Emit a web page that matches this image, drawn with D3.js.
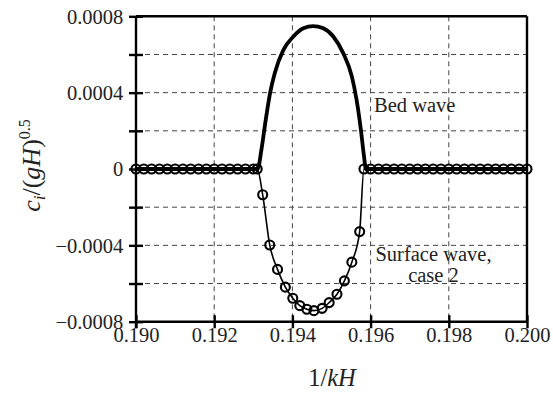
<!DOCTYPE html>
<html>
<head>
<meta charset="utf-8">
<script src="https://cdn.jsdelivr.net/npm/d3@7"></script>
<style>
  html, body { margin: 0; padding: 0; background: #fff; }
  svg { display: block; }
  svg text { font-family: "Liberation Serif", "Times New Roman", Times, Tinos, "Nimbus Roman", "Noto Serif", "DejaVu Serif", serif !important; fill: #222; }
</style>
</head>
<body>
<svg id="chart" width="553" height="393"></svg>
<script>
// Wave-number axis (1/kH) and growth rate c_i/(gH)^0.5

// Surface wave, case 2 (plotted with circle markers)
const surfaceX = [
  0.1900, 0.1902, 0.1904, 0.1906, 0.1908, 0.1910, 0.1912, 0.1914, 0.1916, 0.1918,
  0.1920, 0.1922, 0.1924, 0.1926, 0.1928, 0.1930, 0.19310,
  0.19324, 0.19342, 0.19362, 0.19382, 0.19401, 0.19419, 0.19437, 0.19455,
  0.19476, 0.19494, 0.19514, 0.19533, 0.19552, 0.19572, 0.19583,
  0.1960, 0.1962, 0.1964, 0.1966, 0.1968, 0.1970, 0.1972, 0.1974, 0.1976, 0.1978,
  0.1980, 0.1982, 0.1984, 0.1986, 0.1988, 0.1990, 0.1992, 0.1994, 0.1996, 0.1998, 0.2000
];
const surfaceY = [
  0, 0, 0, 0, 0, 0, 0, 0, 0, 0,
  0, 0, 0, 0, 0, 0, 0,
  -0.000135, -0.000398, -0.000526, -0.000619, -0.000677, -0.000716, -0.000735, -0.000742,
  -0.000730, -0.000700, -0.000656, -0.000586, -0.000488, -0.000328, 0,
  0, 0, 0, 0, 0, 0, 0, 0, 0, 0,
  0, 0, 0, 0, 0, 0, 0, 0, 0, 0, 0
];

// Bed wave (thick solid line)
const bedX = [
  0.1900, 0.19311, 0.19321, 0.19332, 0.19343, 0.19355, 0.19377, 0.19402, 0.19428,
  0.19453, 0.19479, 0.19505, 0.19530, 0.19552, 0.19564, 0.19575, 0.19583, 0.19588, 0.2000
];
const bedY = [
  0, 0, 0.000104, 0.000260, 0.000399, 0.000503, 0.000624, 0.000693, 0.000737,
  0.000749, 0.000737, 0.000693, 0.000607, 0.000485, 0.000364, 0.000208, 0.000069, 0, 0
];

const xTicks = [0.190, 0.192, 0.194, 0.196, 0.198, 0.200];
const xTickLabels = ["0.190", "0.192", "0.194", "0.196", "0.198", "0.200"];
const yTicks = [0.0008, 0.0004, 0, -0.0004, -0.0008];
const yTickLabels = ["0.0008", "0.0004", "0", "\u22120.0004", "\u22120.0008"];
const yMinorTicks = [0.0006, 0.0002, -0.0002, -0.0006];
const xGrid = [0.192, 0.194, 0.196, 0.198];
const yGrid = [0.0006, 0.0004, 0.0002, -0.0002, -0.0004, -0.0006];

const FONT = "'Liberation Serif', 'Times New Roman', Times, Tinos, 'Nimbus Roman', 'Noto Serif', 'DejaVu Serif', serif";

const svg = d3.select("#chart");
const plotL = 136, plotR = 527, plotT = 16.3, plotB = 321.7;

const x = d3.scaleLinear().domain([0.190, 0.200]).range([plotL, plotR]);
const y = d3.scaleLinear().domain([-0.0008, 0.0008]).range([plotB, plotT]);

// dashed grid
const grid = svg.append("g").attr("stroke", "#444").attr("stroke-width", 1)
  .attr("stroke-dasharray", "5,4").attr("fill", "none");
grid.selectAll("line.gx").data(xGrid).join("line").attr("class", "gx")
  .attr("x1", d => x(d)).attr("x2", d => x(d)).attr("y1", plotT).attr("y2", plotB);
grid.selectAll("line.gy").data(yGrid).join("line").attr("class", "gy")
  .attr("x1", plotL).attr("x2", plotR).attr("y1", d => y(d)).attr("y2", d => y(d));

// frame
const frame = svg.append("g").attr("stroke", "#000").attr("stroke-width", 2.4).attr("fill", "none");
frame.append("line").attr("x1", plotL).attr("x2", plotR).attr("y1", plotT).attr("y2", plotT);
frame.append("line").attr("x1", plotR).attr("x2", plotR).attr("y1", plotT).attr("y2", plotB);

// x axis
const xAxis = svg.append("g").attr("transform", `translate(0,${plotB})`)
  .call(d3.axisBottom(x).tickValues(xTicks).tickFormat((d, i) => xTickLabels[i])
    .tickSize(6.5).tickPadding(0))
  .attr("font-family", FONT).attr("font-size", 20.5);
xAxis.select(".domain").attr("stroke", "#000").attr("stroke-width", 2.4)
  .attr("d", `M${plotL},0H${plotR}`);
xAxis.selectAll(".tick line").attr("stroke", "#000").attr("stroke-width", 2.4).attr("y1", -6.5);
xAxis.selectAll(".tick text").attr("y", 20.3).attr("dy", 0).attr("fill", "#222");

// y axis
const yAxis = svg.append("g").attr("transform", `translate(${plotL},0)`)
  .call(d3.axisLeft(y).tickValues(yTicks).tickFormat((d, i) => yTickLabels[i])
    .tickSize(7).tickPadding(5.7))
  .attr("font-family", FONT).attr("font-size", 20.5);
yAxis.select(".domain").attr("stroke", "#000").attr("stroke-width", 2.4)
  .attr("d", `M0,${plotT}V${plotB + 6.5}`);
yAxis.selectAll(".tick line").attr("stroke", "#000").attr("stroke-width", 2.4).attr("x2", 7).attr("x1", -7);
yAxis.selectAll(".tick text").attr("fill", "#222").attr("dy", "0.34em");

const yMinor = svg.append("g").attr("transform", `translate(${plotL},0)`)
  .call(d3.axisLeft(y).tickValues(yMinorTicks).tickFormat("").tickSize(7));
yMinor.select(".domain").remove();
yMinor.selectAll(".tick line").attr("stroke", "#000").attr("stroke-width", 2.4).attr("x1", -7).attr("x2", 7);

// series
const surface = surfaceX.map((v, i) => [v, surfaceY[i]]);
const bed = bedX.map((v, i) => [v, bedY[i]]);

const line = d3.line().x(d => x(d[0])).y(d => y(d[1])).curve(d3.curveMonotoneX);

svg.append("path").datum(surface).attr("d", line)
  .attr("fill", "none").attr("stroke", "#000").attr("stroke-width", 1.6);

svg.append("g").selectAll("circle").data(surface).join("circle")
  .attr("cx", d => x(d[0])).attr("cy", d => y(d[1])).attr("r", 4.5)
  .attr("fill", "none").attr("stroke", "#000").attr("stroke-width", 2.1);

svg.append("path").datum(bed).attr("d", line)
  .attr("fill", "none").attr("stroke", "#000").attr("stroke-width", 3.8)
  .attr("stroke-linejoin", "round");

// annotations
const annG = svg.append("g").attr("font-family", FONT).attr("font-size", 20.5);
annG.append("text").attr("x", 374).attr("y", 111.5).text("Bed wave");
const ann = annG.append("text").attr("text-anchor", "middle");
ann.append("tspan").attr("x", 433.5).attr("y", 260.5).text("Surface wave,");
ann.append("tspan").attr("x", 433.5).attr("y", 281.5).text("case 2");

// axis titles
const xt = svg.append("text").attr("x", 332).attr("y", 386).attr("text-anchor", "middle")
  .attr("font-family", FONT).attr("font-size", 24.5);
xt.append("tspan").text("1/");
xt.append("tspan").attr("font-style", "italic").text("kH");

const yt = svg.append("text").attr("text-anchor", "middle")
  .attr("transform", "translate(40,165.5) rotate(-90)")
  .attr("font-family", FONT).attr("font-size", 26);
yt.append("tspan").attr("font-style", "italic").text("c");
yt.append("tspan").attr("font-style", "italic").attr("font-size", 17).attr("dy", 5).text("i");
yt.append("tspan").attr("dy", -5).text("/(");
yt.append("tspan").attr("font-style", "italic").text("gH");
yt.append("tspan").text(")");
yt.append("tspan").attr("font-size", 16).attr("dy", -10).text("0.5");
</script>
</body>
</html>
